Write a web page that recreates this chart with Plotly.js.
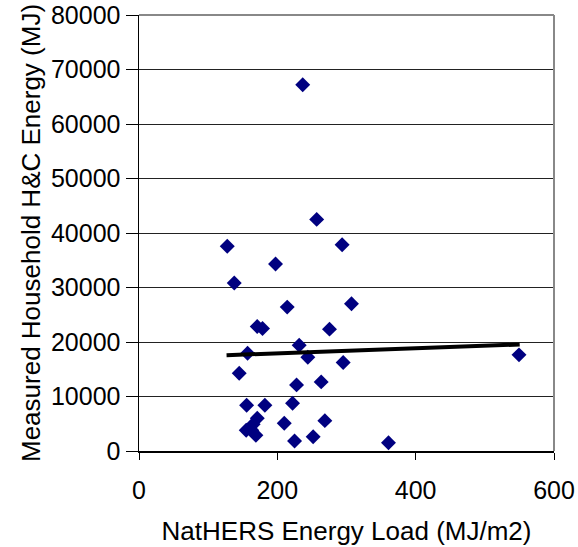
<!DOCTYPE html>
<html>
<head>
<meta charset="utf-8">
<script src="https://cdn.plot.ly/plotly-3.0.1.min.js"></script>
<style>html,body{margin:0;padding:0;background:#fff;}#chart{width:578px;height:547px;}</style>
</head>
<body>
<div id="chart"></div>
<script>
const loadX = [127.6, 293.7, 197.4, 137.7, 214.3, 307.2, 170.9, 178.6, 275.4, 231.6, 157.0, 244.1, 295.2, 549.4, 144.9, 227.8, 263.4, 155.6, 182.0, 222.0, 171.0, 165.0, 155.0, 163.0, 169.0, 210.0, 268.7, 224.9, 251.8, 360.7, 236.7, 256.9];
const energyY = [37550, 37860, 34300, 30810, 26400, 27020, 22850, 22480, 22360, 19420, 17950, 17210, 16230, 17640, 14270, 12130, 12680, 8400, 8400, 8760, 6000, 4900, 3800, 3800, 2900, 5080, 5570, 1840, 2630, 1530, 67200, 42500];
const trendX = [126.6, 550.4];
const trendY = [17580, 19540];
const xTicks = [0, 200, 400, 600];
const yTicks = [0, 10000, 20000, 30000, 40000, 50000, 60000, 70000, 80000];

const tickFont = {family: 'Liberation Sans, Arial, sans-serif', size: 25, color: '#000'};
const titleFont = {family: 'Liberation Sans, Arial, sans-serif', size: 26, color: '#000'};

Plotly.newPlot('chart', [
  {x: loadX, y: energyY, type: 'scatter', mode: 'markers',
   marker: {symbol: 'diamond', size: 11.5, color: '#000080'}, showlegend: false},
  {x: trendX, y: trendY, type: 'scatter', mode: 'lines',
   line: {color: '#000', width: 4}, showlegend: false}
], {
  width: 578, height: 547,
  margin: {l: 139, r: 24, t: 15, b: 96},
  paper_bgcolor: '#fff', plot_bgcolor: '#fff',
  font: tickFont,
  xaxis: {range: [0, 600], tickvals: xTicks, ticks: 'outside', ticklen: 7, tickcolor: '#000',
    showline: true, linecolor: '#000', linewidth: 1.5, showgrid: false, zeroline: false,
    tickformat: 'd', tickfont: tickFont, ticklabelstandoff: 9,
    title: {text: 'NatHERS Energy Load (MJ/m2)', font: titleFont, standoff: 19}},
  yaxis: {range: [0, 80000], tickvals: yTicks, ticks: 'outside', ticklen: 12, tickcolor: '#000',
    showline: true, linecolor: '#000', linewidth: 1.5, showgrid: true, gridcolor: '#222', gridwidth: 1,
    zeroline: false, tickformat: 'd', tickfont: tickFont,
    title: {text: 'Measured Household H&C Energy (MJ)', font: titleFont, standoff: 3}},
  shapes: [
    {type: 'line', xref: 'paper', yref: 'paper', x0: 0, x1: 1, y0: 1, y1: 1, line: {color: '#888', width: 2}},
    {type: 'line', xref: 'paper', yref: 'paper', x0: 1, x1: 1, y0: 0, y1: 1, line: {color: '#888', width: 2}}
  ]
}, {displayModeBar: false, staticPlot: true});
</script>
</body>
</html>
